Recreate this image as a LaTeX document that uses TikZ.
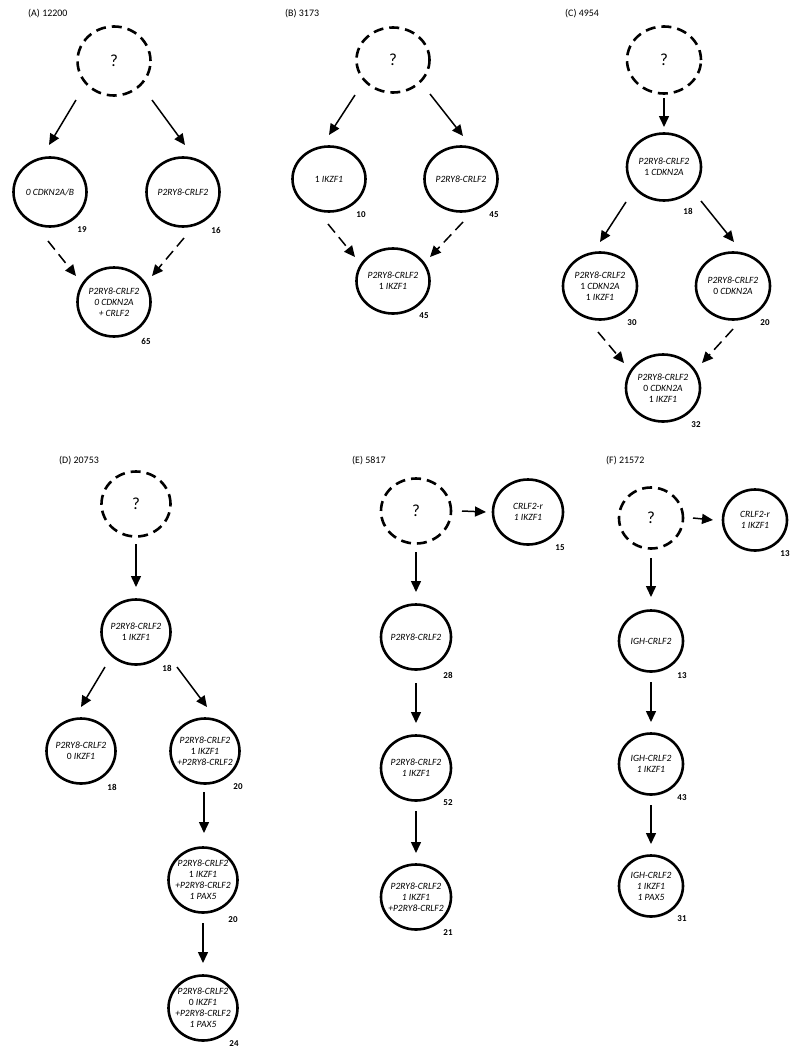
\documentclass[tikz,border=0pt]{standalone}
\usepackage{fontspec}
\setmainfont{Carlito}
\usetikzlibrary{arrows.meta,shapes.geometric,calc}
\begin{document}
\begin{tikzpicture}[x=1bp,y=-1bp,
  cell/.style={ellipse,draw,line width=2.6bp,inner xsep=-7bp,inner ysep=-1bp,
    minimum width=73bp,minimum height=69bp,align=center,
    font=\fontsize{9.6}{11}\selectfont\itshape},
  qcell/.style={cell,dash pattern=on 10bp off 6bp,font=\fontsize{17}{17}\selectfont},
  num/.style={font=\fontsize{9}{10}\selectfont\bfseries,inner sep=0pt},
  ttl/.style={font=\fontsize{10}{11}\selectfont,anchor=west,inner sep=0pt},
  arr/.style={line width=1.5bp,-{Triangle[length=11bp,width=10bp]}},
  darr/.style={arr,dash pattern=on 11bp off 6bp},
  pB/.style={minimum width=73bp,minimum height=65bp},
  pC/.style={minimum width=74bp,minimum height=67bp},
  pD/.style={minimum width=69bp,minimum height=65bp},
  pE/.style={minimum width=70bp,minimum height=65bp},
  pF/.style={minimum width=64bp,minimum height=61bp}]
\useasboundingbox[fill=white] (0,0) rectangle (800,1057);

% ---------------- Panel A
\node[ttl] (tA) at (28,14) {(A) 12200};
\node[qcell] (qA) at (114,61) {?};
\node[cell] (A1) at (50,192) {0 CDKN2A/B};
\node[cell] (A2) at (183,192) {P2RY8-CRLF2};
\node[cell] (A3) at (114,302) {P2RY8-CRLF2\\0 CDKN2A\\+ CRLF2};
\node[num] (nA1) at ($(A1)+(32,38)$) {19};
\node[num] (nA2) at ($(A2)+(33,38)$) {16};
\node[num] (nA3) at ($(A3)+(32,39)$) {65};
\draw[arr] ($(qA)+(-38,39)$) -- ($(A1)+(-1,-47)$);
\draw[arr] ($(qA)+(38,39)$) -- ($(A2)+(2,-47)$);
\draw[darr] ($(A1)+(-2,49)$) -- ($(A3)+(-38,-26)$);
\draw[darr] ($(A2)+(1,46)$) -- ($(A3)+(38,-26)$);

% ---------------- Panel B
\node[ttl] (tB) at (285,14) {(B) 3173};
\node[qcell,pB] (qB) at (393,60) {?};
\node[cell,pB] (B1) at (329,179) {\textup{1} IKZF1};
\node[cell,pB] (B2) at (461,179) {P2RY8-CRLF2};
\node[cell,pB] (B3) at (393,281) {P2RY8-CRLF2\\\textup{1} IKZF1};
\node[num] (nB1) at ($(B1)+(32,36)$) {10};
\node[num] (nB2) at ($(B2)+(33,36)$) {45};
\node[num] (nB3) at ($(B3)+(31,35)$) {45};
\draw[arr] ($(qB)+(-38,35)$) -- ($(B1)+(0,-44)$);
\draw[arr] ($(qB)+(37,34)$) -- ($(B2)+(2,-43)$);
\draw[darr] ($(B1)+(-1,45)$) -- ($(B3)+(-38,-24)$);
\draw[darr] ($(B2)+(2,43)$) -- ($(B3)+(37,-24)$);

% ---------------- Panel C
\node[ttl] (tC) at (565,14) {(C) 4954};
\node[qcell,pC] (qC) at (664,60) {?};
\node[cell,pC] (C1) at (664,167) {P2RY8-CRLF2\\\textup{1} CDKN2A};
\node[cell,pC] (C2) at (600,286) {P2RY8-CRLF2\\\textup{1} CDKN2A\\\textup{1} IKZF1};
\node[cell,pC] (C3) at (733,286) {P2RY8-CRLF2\\\textup{0} CDKN2A};
\node[cell,pC] (C4) at (663,388) {P2RY8-CRLF2\\\textup{0} CDKN2A\\\textup{1} IKZF1};
\node[num] (nC1) at ($(C1)+(24,44)$) {18};
\node[num] (nC2) at ($(C2)+(32,37)$) {30};
\node[num] (nC3) at ($(C3)+(32,37)$) {20};
\node[num] (nC4) at ($(C4)+(33,37)$) {32};
\draw[arr] ($(qC)+(0,38)$) -- ($(C1)+(0,-40)$);
\draw[arr] ($(C1)+(-38,35)$) -- ($(C2)+(0,-44)$);
\draw[arr] ($(C1)+(37,34)$) -- ($(C3)+(1,-44)$);
\draw[darr] ($(C2)+(-2,46)$) -- ($(C4)+(-39,-25)$);
\draw[darr] ($(C3)+(0,43)$) -- ($(C4)+(39,-25)$);

% ---------------- Panel D
\node[ttl] (tD) at (59,461) {(D) 20753};
\node[qcell,pD] (qD) at (136,504) {?};
\node[cell,pD] (D1) at (136,632) {P2RY8-CRLF2\\\textup{1} IKZF1};
\node[cell,pD] (D2) at (81,751) {P2RY8-CRLF2\\\textup{0} IKZF1};
\node[cell,pD] (D3) at (205,751) {P2RY8-CRLF2\\\textup{1} IKZF1\\+P2RY8-CRLF2};
\node[cell,pD] (D4) at (203,880) {P2RY8-CRLF2\\\textup{1} IKZF1\\+P2RY8-CRLF2\\1 PAX5};
\node[cell,pD] (D5) at (203,1008) {P2RY8-CRLF2\\\textup{0} IKZF1\\+P2RY8-CRLF2\\1 PAX5};
\node[num] (nD1) at ($(D1)+(31,36)$) {18};
\node[num] (nD2) at ($(D2)+(31,36)$) {18};
\node[num] (nD3) at ($(D3)+(33,36)$) {20};
\node[num] (nD4) at ($(D4)+(30,40)$) {20};
\node[num] (nD5) at ($(D5)+(31,36)$) {24};
\draw[arr] ($(qD)+(0,40)$) -- ($(D1)+(0,-45)$);
\draw[arr] ($(D1)+(-31,35)$) -- ($(D2)+(0,-44)$);
\draw[arr] ($(D1)+(41,35)$) -- ($(D3)+(2,-44)$);
\draw[arr] ($(D3)+(-1,41)$) -- ($(D4)+(1,-47)$);
\draw[arr] ($(D4)+(0,43)$) -- ($(D5)+(0,-45)$);

% ---------------- Panel E
\node[ttl] (tE) at (352,461) {(E) 5817};
\node[qcell,pE] (qE) at (416,511) {?};
\node[cell,pE] (E1) at (528,512) {CRLF2-r\\1 IKZF1};
\node[cell,pE] (E2) at (416,637) {P2RY8-CRLF2};
\node[cell,pE] (E3) at (416,768) {P2RY8-CRLF2\\1 IKZF1};
\node[cell,pE] (E4) at (416,897) {P2RY8-CRLF2\\1 IKZF1\\+P2RY8-CRLF2};
\node[num] (nE1) at ($(E1)+(32,36)$) {15};
\node[num] (nE2) at ($(E2)+(32,38)$) {28};
\node[num] (nE3) at ($(E3)+(32,35)$) {52};
\node[num] (nE4) at ($(E4)+(32,36)$) {21};
\draw[arr] ($(qE)+(46,0)$) -- ($(E1)+(-42,0)$);
\draw[arr] ($(qE)+(0,41)$) -- ($(E2)+(0,-45)$);
\draw[arr] ($(E2)+(0,46)$) -- ($(E3)+(0,-45)$);
\draw[arr] ($(E3)+(0,43)$) -- ($(E4)+(0,-44)$);

% ---------------- Panel F
\node[ttl] (tF) at (606,461) {(F) 21572};
\node[qcell,pF] (qF) at (651,518) {?};
\node[cell,pF] (F1) at (755,520) {CRLF2-r\\1 IKZF1};
\node[cell,pF] (F2) at (651,641) {IGH-CRLF2};
\node[cell,pF] (F3) at (651,764) {IGH-CRLF2\\1 IKZF1};
\node[cell,pF] (F4) at (651,886) {IGH-CRLF2\\1 IKZF1\\1 PAX5};
\node[num] (nF1) at ($(F1)+(30,34)$) {13};
\node[num] (nF2) at ($(F2)+(31,35)$) {13};
\node[num] (nF3) at ($(F3)+(31,34)$) {43};
\node[num] (nF4) at ($(F4)+(31,33)$) {31};
\draw[arr] ($(qF)+(42,0)$) -- ($(F1)+(-42,0)$);
\draw[arr] ($(qF)+(0,40)$) -- ($(F2)+(0,-44)$);
\draw[arr] ($(F2)+(0,41)$) -- ($(F3)+(0,-42)$);
\draw[arr] ($(F3)+(0,41)$) -- ($(F4)+(0,-42)$);
\end{tikzpicture}
\end{document}
